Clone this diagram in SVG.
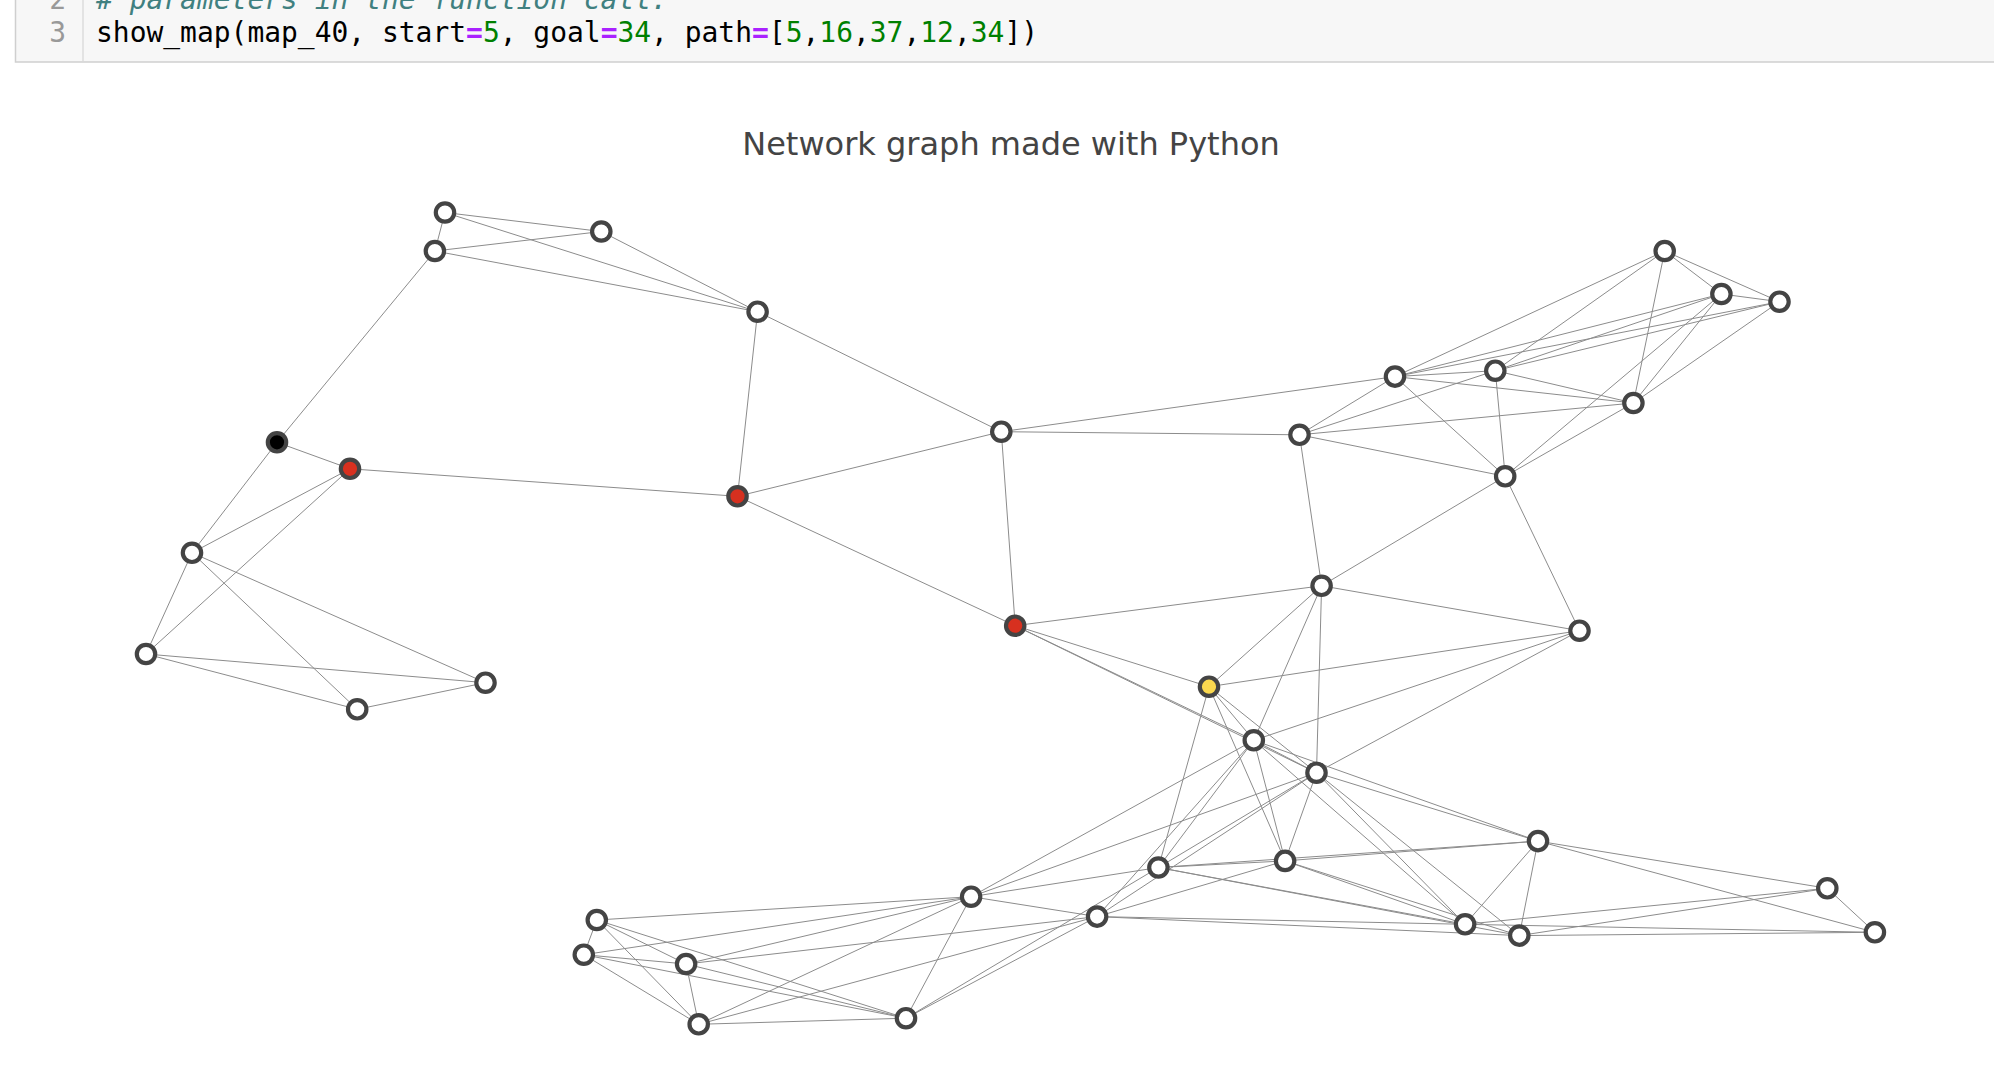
<svg xmlns="http://www.w3.org/2000/svg" width="1994" height="1070" viewBox="0 0 1994 1070">
<style>
.e{stroke:#8c8c8c;stroke-width:1;fill:none}
.n{stroke:#444;stroke-width:4.2}
.w{fill:#fff}
.code{font-family:"DejaVu Sans Mono","Liberation Mono",monospace;font-size:27.95px}
.num{fill:#008000}
.op{fill:#AA22FF;font-weight:bold}
</style>
<rect x="0" y="0" width="1994" height="1070" fill="#fff"/>
<g id="code-cell">
<rect x="15.5" y="-10" width="2000" height="72" fill="#f7f7f7" stroke="#cfcfcf" stroke-width="1.5"/>
<line x1="83" y1="-10" x2="83" y2="61" stroke="#ddd" stroke-width="1.5"/>
<text class="code" x="66" y="8.5" text-anchor="end" fill="#999">2</text>
<text class="code" x="66" y="42.3" text-anchor="end" fill="#999">3</text>
<text class="code" x="96" y="8.5" fill="#408080" font-style="italic"># parameters in the function call.</text>
<text class="code" x="96" y="42.3" fill="#000">show_map(map_40, start<tspan class="op">=</tspan><tspan class="num">5</tspan>, goal<tspan class="op">=</tspan><tspan class="num">34</tspan>, path<tspan class="op">=</tspan>[<tspan class="num">5</tspan>,<tspan class="num">16</tspan>,<tspan class="num">37</tspan>,<tspan class="num">12</tspan>,<tspan class="num">34</tspan>])</text>
</g>
<text id="title" x="1011" y="155" text-anchor="middle" font-family="'DejaVu Sans','Liberation Sans',sans-serif" font-size="32" fill="#444">Network graph made with Python</text>
<g id="edges" class="e">
<line x1="445" y1="212.5" x2="601.3" y2="231.5"/>
<line x1="445" y1="212.5" x2="434.9" y2="251"/>
<line x1="445" y1="212.5" x2="757.6" y2="311.7"/>
<line x1="601.3" y1="231.5" x2="434.9" y2="251"/>
<line x1="601.3" y1="231.5" x2="757.6" y2="311.7"/>
<line x1="434.9" y1="251" x2="757.6" y2="311.7"/>
<line x1="434.9" y1="251" x2="277" y2="442.3"/>
<line x1="277" y1="442.3" x2="350" y2="468.8"/>
<line x1="277" y1="442.3" x2="192" y2="552.8"/>
<line x1="350" y1="468.8" x2="737.5" y2="496.3"/>
<line x1="350" y1="468.8" x2="192" y2="552.8"/>
<line x1="350" y1="468.8" x2="146" y2="654"/>
<line x1="192" y1="552.8" x2="146" y2="654"/>
<line x1="192" y1="552.8" x2="357.2" y2="709.3"/>
<line x1="192" y1="552.8" x2="485.5" y2="682.7"/>
<line x1="146" y1="654" x2="357.2" y2="709.3"/>
<line x1="146" y1="654" x2="485.5" y2="682.7"/>
<line x1="357.2" y1="709.3" x2="485.5" y2="682.7"/>
<line x1="757.6" y1="311.7" x2="737.5" y2="496.3"/>
<line x1="757.6" y1="311.7" x2="1001.3" y2="431.7"/>
<line x1="737.5" y1="496.3" x2="1001.3" y2="431.7"/>
<line x1="737.5" y1="496.3" x2="1015.2" y2="625.7"/>
<line x1="1001.3" y1="431.7" x2="1015.2" y2="625.7"/>
<line x1="1001.3" y1="431.7" x2="1299.5" y2="434.8"/>
<line x1="1001.3" y1="431.7" x2="1395" y2="376.6"/>
<line x1="1299.5" y1="434.8" x2="1395" y2="376.6"/>
<line x1="1299.5" y1="434.8" x2="1495.3" y2="370.7"/>
<line x1="1299.5" y1="434.8" x2="1633.4" y2="403"/>
<line x1="1299.5" y1="434.8" x2="1505.2" y2="476.3"/>
<line x1="1299.5" y1="434.8" x2="1321.6" y2="585.8"/>
<line x1="1395" y1="376.6" x2="1495.3" y2="370.7"/>
<line x1="1395" y1="376.6" x2="1664.7" y2="251"/>
<line x1="1395" y1="376.6" x2="1721.4" y2="294"/>
<line x1="1395" y1="376.6" x2="1779.5" y2="301.7"/>
<line x1="1395" y1="376.6" x2="1633.4" y2="403"/>
<line x1="1395" y1="376.6" x2="1505.2" y2="476.3"/>
<line x1="1495.3" y1="370.7" x2="1664.7" y2="251"/>
<line x1="1495.3" y1="370.7" x2="1721.4" y2="294"/>
<line x1="1495.3" y1="370.7" x2="1779.5" y2="301.7"/>
<line x1="1495.3" y1="370.7" x2="1633.4" y2="403"/>
<line x1="1495.3" y1="370.7" x2="1505.2" y2="476.3"/>
<line x1="1664.7" y1="251" x2="1721.4" y2="294"/>
<line x1="1664.7" y1="251" x2="1779.5" y2="301.7"/>
<line x1="1664.7" y1="251" x2="1633.4" y2="403"/>
<line x1="1721.4" y1="294" x2="1779.5" y2="301.7"/>
<line x1="1721.4" y1="294" x2="1633.4" y2="403"/>
<line x1="1721.4" y1="294" x2="1505.2" y2="476.3"/>
<line x1="1779.5" y1="301.7" x2="1633.4" y2="403"/>
<line x1="1633.4" y1="403" x2="1505.2" y2="476.3"/>
<line x1="1505.2" y1="476.3" x2="1321.6" y2="585.8"/>
<line x1="1505.2" y1="476.3" x2="1579.5" y2="630.7"/>
<line x1="1321.6" y1="585.8" x2="1579.5" y2="630.7"/>
<line x1="1321.6" y1="585.8" x2="1015.2" y2="625.7"/>
<line x1="1321.6" y1="585.8" x2="1209" y2="686.7"/>
<line x1="1321.6" y1="585.8" x2="1253.8" y2="740.3"/>
<line x1="1321.6" y1="585.8" x2="1316.5" y2="772.7"/>
<line x1="1579.5" y1="630.7" x2="1209" y2="686.7"/>
<line x1="1579.5" y1="630.7" x2="1253.8" y2="740.3"/>
<line x1="1579.5" y1="630.7" x2="1316.5" y2="772.7"/>
<line x1="1015.2" y1="625.7" x2="1209" y2="686.7"/>
<line x1="1015.2" y1="625.7" x2="1253.8" y2="740.3"/>
<line x1="1015.2" y1="625.7" x2="1316.5" y2="772.7"/>
<line x1="1209" y1="686.7" x2="1253.8" y2="740.3"/>
<line x1="1209" y1="686.7" x2="1316.5" y2="772.7"/>
<line x1="1209" y1="686.7" x2="1158.4" y2="867.5"/>
<line x1="1209" y1="686.7" x2="1285.1" y2="860.9"/>
<line x1="1253.8" y1="740.3" x2="1316.5" y2="772.7"/>
<line x1="1253.8" y1="740.3" x2="1158.4" y2="867.5"/>
<line x1="1253.8" y1="740.3" x2="1097.1" y2="916.6"/>
<line x1="1253.8" y1="740.3" x2="971.1" y2="896.7"/>
<line x1="1253.8" y1="740.3" x2="1285.1" y2="860.9"/>
<line x1="1253.8" y1="740.3" x2="1465.1" y2="924.3"/>
<line x1="1253.8" y1="740.3" x2="1538" y2="841.1"/>
<line x1="1316.5" y1="772.7" x2="1158.4" y2="867.5"/>
<line x1="1316.5" y1="772.7" x2="1097.1" y2="916.6"/>
<line x1="1316.5" y1="772.7" x2="971.1" y2="896.7"/>
<line x1="1316.5" y1="772.7" x2="1285.1" y2="860.9"/>
<line x1="1316.5" y1="772.7" x2="1465.1" y2="924.3"/>
<line x1="1316.5" y1="772.7" x2="1519.3" y2="935.6"/>
<line x1="1316.5" y1="772.7" x2="1538" y2="841.1"/>
<line x1="1158.4" y1="867.5" x2="1285.1" y2="860.9"/>
<line x1="1158.4" y1="867.5" x2="1538" y2="841.1"/>
<line x1="1158.4" y1="867.5" x2="1465.1" y2="924.3"/>
<line x1="1158.4" y1="867.5" x2="1519.3" y2="935.6"/>
<line x1="1158.4" y1="867.5" x2="971.1" y2="896.7"/>
<line x1="1158.4" y1="867.5" x2="906" y2="1018.2"/>
<line x1="1285.1" y1="860.9" x2="1538" y2="841.1"/>
<line x1="1285.1" y1="860.9" x2="1465.1" y2="924.3"/>
<line x1="1285.1" y1="860.9" x2="1519.3" y2="935.6"/>
<line x1="1285.1" y1="860.9" x2="1097.1" y2="916.6"/>
<line x1="1097.1" y1="916.6" x2="971.1" y2="896.7"/>
<line x1="1097.1" y1="916.6" x2="1465.1" y2="924.3"/>
<line x1="1097.1" y1="916.6" x2="1519.3" y2="935.6"/>
<line x1="1097.1" y1="916.6" x2="906" y2="1018.2"/>
<line x1="1097.1" y1="916.6" x2="686.1" y2="964"/>
<line x1="1097.1" y1="916.6" x2="698.7" y2="1024.3"/>
<line x1="1538" y1="841.1" x2="1465.1" y2="924.3"/>
<line x1="1538" y1="841.1" x2="1519.3" y2="935.6"/>
<line x1="1538" y1="841.1" x2="1827.3" y2="888.3"/>
<line x1="1538" y1="841.1" x2="1874.9" y2="932.3"/>
<line x1="1465.1" y1="924.3" x2="1827.3" y2="888.3"/>
<line x1="1465.1" y1="924.3" x2="1874.9" y2="932.3"/>
<line x1="1519.3" y1="935.6" x2="1827.3" y2="888.3"/>
<line x1="1519.3" y1="935.6" x2="1874.9" y2="932.3"/>
<line x1="1827.3" y1="888.3" x2="1874.9" y2="932.3"/>
<line x1="971.1" y1="896.7" x2="596.8" y2="920"/>
<line x1="971.1" y1="896.7" x2="583.8" y2="954.7"/>
<line x1="971.1" y1="896.7" x2="686.1" y2="964"/>
<line x1="971.1" y1="896.7" x2="698.7" y2="1024.3"/>
<line x1="971.1" y1="896.7" x2="906" y2="1018.2"/>
<line x1="596.8" y1="920" x2="583.8" y2="954.7"/>
<line x1="596.8" y1="920" x2="686.1" y2="964"/>
<line x1="596.8" y1="920" x2="698.7" y2="1024.3"/>
<line x1="596.8" y1="920" x2="906" y2="1018.2"/>
<line x1="583.8" y1="954.7" x2="686.1" y2="964"/>
<line x1="583.8" y1="954.7" x2="698.7" y2="1024.3"/>
<line x1="583.8" y1="954.7" x2="906" y2="1018.2"/>
<line x1="686.1" y1="964" x2="698.7" y2="1024.3"/>
<line x1="686.1" y1="964" x2="906" y2="1018.2"/>
<line x1="698.7" y1="1024.3" x2="906" y2="1018.2"/>
</g>
<g id="nodes">
<g id="node-a"><circle class="n w" cx="445" cy="212.5" r="9.2"/></g>
<g id="node-b"><circle class="n w" cx="601.3" cy="231.5" r="9.2"/></g>
<g id="node-c"><circle class="n w" cx="434.9" cy="251" r="9.2"/></g>
<g id="node-d"><circle class="n w" cx="757.6" cy="311.7" r="9.2"/></g>
<g id="node-start-5"><circle class="n" fill="#000" cx="277" cy="442.3" r="9.2"/></g>
<g id="node-path-16"><circle class="n" fill="#d7301f" cx="350" cy="468.8" r="9.2"/></g>
<g id="node-path-37"><circle class="n" fill="#d7301f" cx="737.5" cy="496.3" r="9.2"/></g>
<g id="node-e"><circle class="n w" cx="192" cy="552.8" r="9.2"/></g>
<g id="node-f"><circle class="n w" cx="146" cy="654" r="9.2"/></g>
<g id="node-g"><circle class="n w" cx="357.2" cy="709.3" r="9.2"/></g>
<g id="node-h"><circle class="n w" cx="485.5" cy="682.7" r="9.2"/></g>
<g id="node-i"><circle class="n w" cx="1001.3" cy="431.7" r="9.2"/></g>
<g id="node-j"><circle class="n w" cx="1299.5" cy="434.8" r="9.2"/></g>
<g id="node-path-12"><circle class="n" fill="#d7301f" cx="1015.2" cy="625.7" r="9.2"/></g>
<g id="node-k"><circle class="n w" cx="1395" cy="376.6" r="9.2"/></g>
<g id="node-l"><circle class="n w" cx="1495.3" cy="370.7" r="9.2"/></g>
<g id="node-m"><circle class="n w" cx="1664.7" cy="251" r="9.2"/></g>
<g id="node-n"><circle class="n w" cx="1721.4" cy="294" r="9.2"/></g>
<g id="node-o"><circle class="n w" cx="1779.5" cy="301.7" r="9.2"/></g>
<g id="node-p"><circle class="n w" cx="1633.4" cy="403" r="9.2"/></g>
<g id="node-q"><circle class="n w" cx="1505.2" cy="476.3" r="9.2"/></g>
<g id="node-r"><circle class="n w" cx="1321.6" cy="585.8" r="9.2"/></g>
<g id="node-s"><circle class="n w" cx="1579.5" cy="630.7" r="9.2"/></g>
<g id="node-goal-34"><circle class="n" fill="#fbd94f" cx="1209" cy="686.7" r="9.2"/></g>
<g id="node-t"><circle class="n w" cx="1253.8" cy="740.3" r="9.2"/></g>
<g id="node-u"><circle class="n w" cx="1316.5" cy="772.7" r="9.2"/></g>
<g id="node-v"><circle class="n w" cx="1538" cy="841.1" r="9.2"/></g>
<g id="node-w"><circle class="n w" cx="1285.1" cy="860.9" r="9.2"/></g>
<g id="node-x"><circle class="n w" cx="1158.4" cy="867.5" r="9.2"/></g>
<g id="node-z"><circle class="n w" cx="1097.1" cy="916.6" r="9.2"/></g>
<g id="node-aj"><circle class="n w" cx="971.1" cy="896.7" r="9.2"/></g>
<g id="node-aa"><circle class="n w" cx="1465.1" cy="924.3" r="9.2"/></g>
<g id="node-ab"><circle class="n w" cx="1519.3" cy="935.6" r="9.2"/></g>
<g id="node-ac"><circle class="n w" cx="1827.3" cy="888.3" r="9.2"/></g>
<g id="node-ad"><circle class="n w" cx="1874.9" cy="932.3" r="9.2"/></g>
<g id="node-ae"><circle class="n w" cx="596.8" cy="920" r="9.2"/></g>
<g id="node-af"><circle class="n w" cx="583.8" cy="954.7" r="9.2"/></g>
<g id="node-ag"><circle class="n w" cx="686.1" cy="964" r="9.2"/></g>
<g id="node-ah"><circle class="n w" cx="698.7" cy="1024.3" r="9.2"/></g>
<g id="node-ai"><circle class="n w" cx="906" cy="1018.2" r="9.2"/></g>
</g>
</svg>
